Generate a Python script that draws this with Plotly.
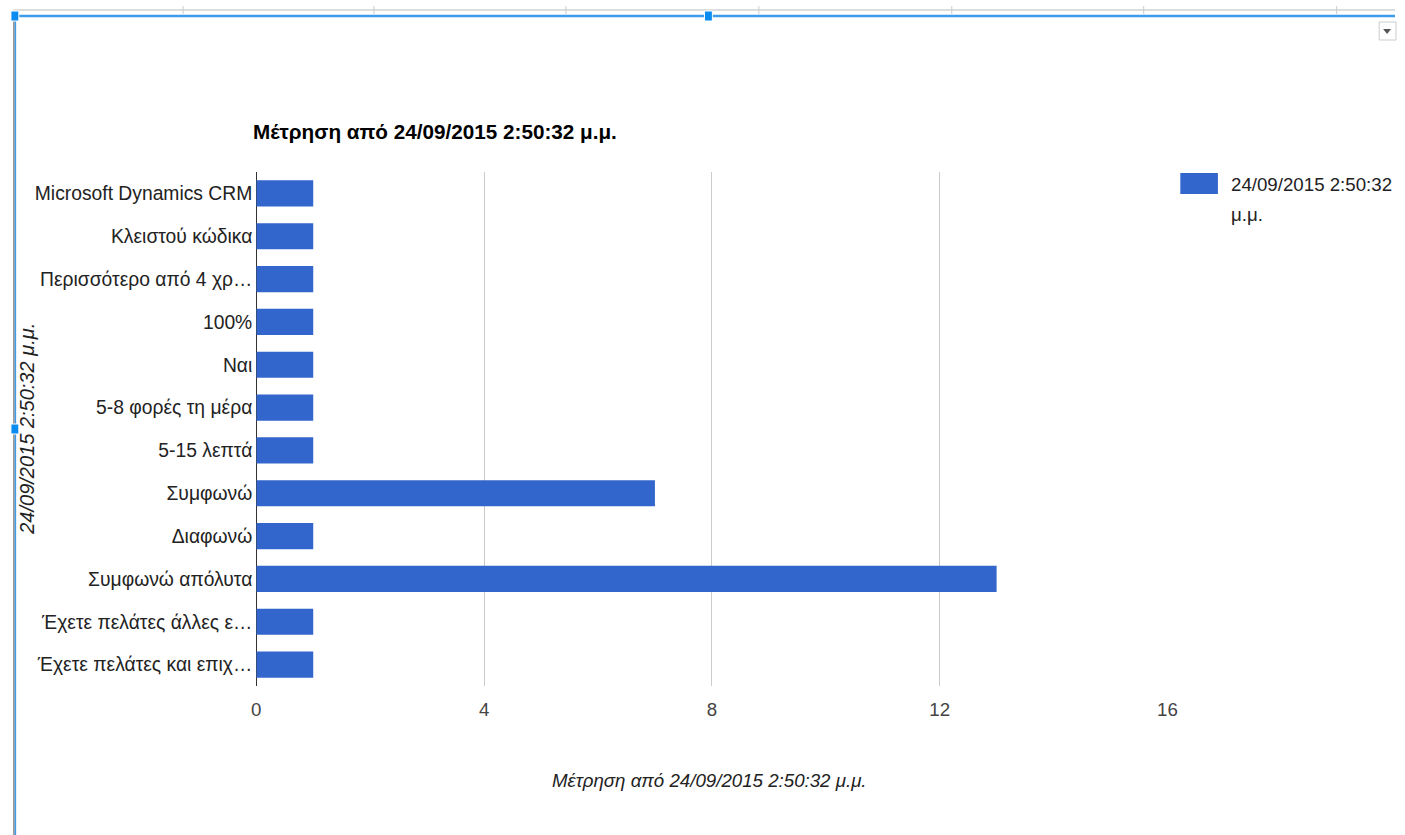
import plotly.graph_objects as go

# Survey answers and their counts
categories = [
    "Microsoft Dynamics CRM",
    "Κλειστού κώδικα",
    "Περισσότερο από 4 χρ…",
    "100%",
    "Ναι",
    "5-8 φορές τη μέρα",
    "5-15 λεπτά",
    "Συμφωνώ",
    "Διαφωνώ",
    "Συμφωνώ απόλυτα",
    "Έχετε πελάτες άλλες ε…",
    "Έχετε πελάτες και επιχ…",
]
counts = [1, 1, 1, 1, 1, 1, 1, 7, 1, 13, 1, 1]
x_ticks = [0, 4, 8, 12, 16]

series_name = "24/09/2015 2:50:32 μ.μ."
chart_title = "Μέτρηση από 24/09/2015 2:50:32 μ.μ."

W, H = 1405, 835
BAR = "#3366cc"
FONT = "Liberation Sans, Arial, sans-serif"


def px(x):
    return x / W


def py(y):
    return 1 - y / H


fig = go.Figure(
    go.Bar(
        x=counts,
        y=categories,
        orientation="h",
        marker=dict(color=BAR, line=dict(width=0)),
        name=series_name,
        showlegend=False,
        hoverinfo="x+y",
    )
)

shapes = []
# sheet chrome: grey column strip and blue selection frame
shapes.append(dict(type="line", xref="paper", yref="paper", x0=px(8), x1=px(1405),
                   y0=py(10), y1=py(10), line=dict(color="#dddddd", width=2)))
for cx in [180, 373, 567, 762, 957, 1151, 1346]:
    shapes.append(dict(type="line", xref="paper", yref="paper", x0=px(cx), x1=px(cx),
                       y0=py(6), y1=py(14), line=dict(color="#cccccc", width=1)))
shapes.append(dict(type="line", xref="paper", yref="paper", x0=px(8), x1=px(1405),
                   y0=py(16), y1=py(16), line=dict(color="#3d9be9", width=2.5)))
shapes.append(dict(type="line", xref="paper", yref="paper", x0=px(9), x1=px(9),
                   y0=py(16), y1=py(835), line=dict(color="#888888", width=1.5)))
shapes.append(dict(type="line", xref="paper", yref="paper", x0=px(10.5), x1=px(10.5),
                   y0=py(16), y1=py(835), line=dict(color="#3d9be9", width=1.5)))
for hx, hy in [(10, 16), (711, 16), (10, 429)]:
    shapes.append(dict(type="rect", xref="paper", yref="paper",
                       x0=px(hx - 4), x1=px(hx + 4), y0=py(hy - 5), y1=py(hy + 5),
                       fillcolor="#0a8cf0", line=dict(color="#ffffff", width=1)))
# dropdown button
shapes.append(dict(type="rect", xref="paper", yref="paper", x0=px(1389), x1=px(1406),
                   y0=py(22), y1=py(40), fillcolor="#ffffff",
                   line=dict(color="#cccccc", width=1)))
shapes.append(dict(type="path", xref="paper", yref="paper",
                   path=f"M {px(1393)} {py(29)} L {px(1401)} {py(29)} L {px(1397)} {py(34)} Z",
                   fillcolor="#555555", line=dict(width=0)))
# legend swatch
shapes.append(dict(type="rect", xref="paper", yref="paper", x0=px(1188), x1=px(1226),
                   y0=py(173), y1=py(194), fillcolor=BAR, line=dict(width=0)))

annotations = [
    dict(text=f"<b>{chart_title}</b>", xref="paper", yref="paper", x=px(249), y=py(131),
         xanchor="left", yanchor="middle", showarrow=False,
         font=dict(family=FONT, size=20.7, color="#000000")),
    dict(text="24/09/2015 2:50:32", xref="paper", yref="paper", x=px(1237), y=py(185),
         xanchor="left", yanchor="middle", align="left", showarrow=False,
         font=dict(family=FONT, size=18.7, color="#222222")),
    dict(text="μ.μ.", xref="paper", yref="paper", x=px(1237), y=py(215),
         xanchor="left", yanchor="middle", align="left", showarrow=False,
         font=dict(family=FONT, size=18.7, color="#222222")),
    dict(text=f"<i>{chart_title}</i>", xref="paper", yref="paper", x=px(712), y=py(780),
         xanchor="center", yanchor="middle", showarrow=False,
         font=dict(family=FONT, size=18.7, color="#222222")),
    dict(text=f"<i>{series_name}</i>", xref="paper", yref="paper", x=px(22), y=py(429),
         xanchor="center", yanchor="middle", textangle=-90, showarrow=False,
         font=dict(family=FONT, size=20, color="#222222")),
]

fig.update_layout(
    width=W,
    height=H,
    margin=dict(l=0, r=0, t=0, b=0),
    paper_bgcolor="white",
    plot_bgcolor="white",
    bargap=0.39,
    font=dict(family=FONT, size=19, color="#222222"),
    shapes=shapes,
    annotations=annotations,
    xaxis=dict(
        domain=[px(254), px(1175)],
        range=[0, 16],
        tickvals=x_ticks,
        ticktext=[str(v) for v in x_ticks],
        showgrid=True,
        gridcolor="#cccccc",
        gridwidth=1,
        zeroline=True,
        zerolinecolor="#333333",
        zerolinewidth=1,
        showline=False,
        ticks="",
        ticklabelstandoff=10,
        tickfont=dict(family=FONT, size=18.7, color="#444444"),
        fixedrange=True,
    ),
    yaxis=dict(
        domain=[py(686), py(172)],
        categoryorder="array",
        categoryarray=categories,
        autorange="reversed",
        showgrid=False,
        zeroline=False,
        showline=False,
        ticks="",
        ticklabelstandoff=3,
        tickfont=dict(family=FONT, size=19.3, color="#222222"),
        fixedrange=True,
    ),
)

fig.write_html("out.html")
